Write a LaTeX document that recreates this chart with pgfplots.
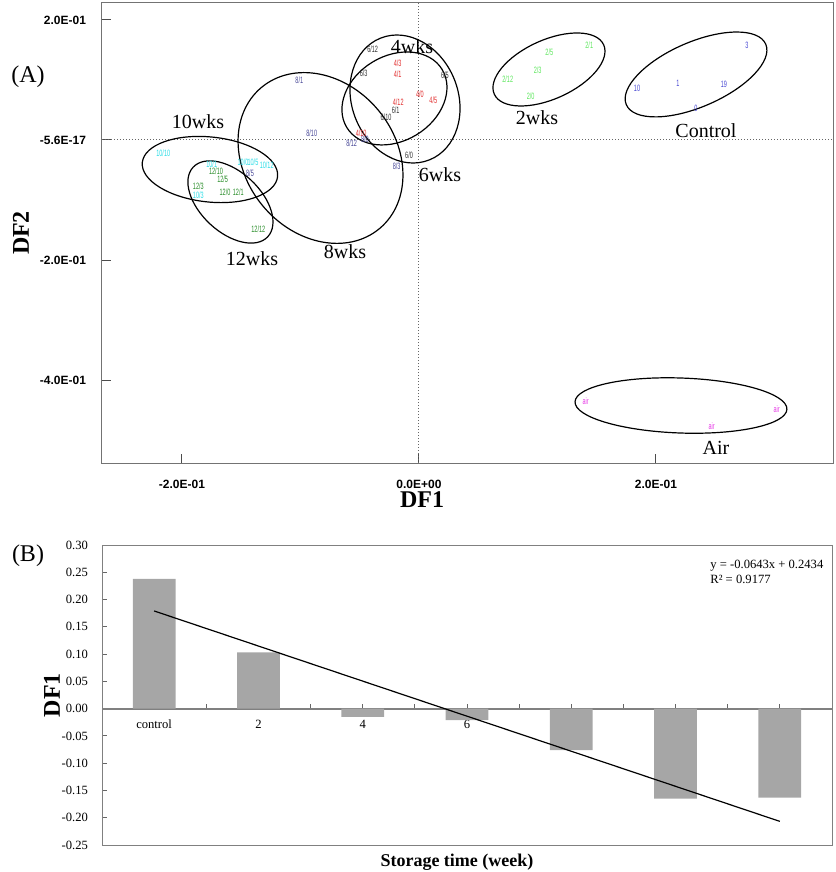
\documentclass[border=0pt]{standalone}
\usepackage{fontspec}
\setmainfont{Liberation Serif}
\newfontfamily\tickfont{Liberation Sans}
\newfontfamily\ptfont[FakeStretch=0.6]{Liberation Sans}
\usepackage{pgfplots}
\pgfplotsset{compat=1.18}
\usetikzlibrary{shapes.geometric}
\definecolor{cctrl}{RGB}{70,70,210}
\definecolor{cwk2}{RGB}{90,230,90}
\definecolor{cwk4}{RGB}{225,45,45}
\definecolor{cwk6}{RGB}{50,50,50}
\definecolor{cwk8}{RGB}{70,70,150}
\definecolor{cwk10}{RGB}{40,220,230}
\definecolor{cwk12}{RGB}{40,140,40}
\definecolor{cair}{RGB}{230,60,230}
\definecolor{barfill}{RGB}{166,166,166}
\begin{document}
\begin{tikzpicture}
\useasboundingbox (0,0) rectangle (417.5pt,-436pt);
\node[font=\fontsize{12}{14}\selectfont] at (14pt,-38.5pt) {(A)};
\node[font=\fontsize{12}{14}\selectfont] at (14pt,-278pt) {(B)};

% ---------------- (A) ----------------
\begin{axis}[
  at={(51pt,-231.5pt)}, anchor=south west, scale only axis,
  width=365.5pt, height=230pt,
  xmin=-0.2675, xmax=0.3494, ymin=-0.5383, ymax=0.2283,
  axis line style={draw=black!55, line width=0.5pt},
  xtick={-0.2,0,0.2}, xticklabels={-2.0E-01,0.0E+00,2.0E-01},
  ytick={-0.4,-0.2,0,0.2}, yticklabels={-4.0E-01,-2.0E-01,-5.6E-17,2.0E-01},
  tick align=inside, xtick pos=left, ytick pos=left,
  major tick length=4.5pt,
  tick style={black!70, line width=0.5pt},
  ticklabel style={font=\tickfont\bfseries\fontsize{6}{7}\selectfont},
  xticklabel style={yshift=-5pt},
  yticklabel style={xshift=-4.5pt},
  xlabel={DF1}, ylabel={DF2},
  label style={font=\bfseries\fontsize{12}{14}\selectfont},
  xlabel style={at={(axis description cs:0.4378,-0.0800)}, anchor=center},
  ylabel style={at={(axis description cs:-0.1108,0.5)}, anchor=center},
  clip=false,
  every node near coord/.append style={anchor=center, inner sep=0pt, font=\ptfont\fontsize{4.6}{5}\selectfont},
]
\draw[densely dotted, black!60, line width=0.5pt] (axis cs:0,-0.5383) -- (axis cs:0,0.2283);
\draw[densely dotted, black!60, line width=0.5pt] (axis cs:-0.2675,0) -- (axis cs:0.3494,0);

% Control
\addplot[draw=none, mark=none, nodes near coords, point meta=explicit symbolic,
  every node near coord/.append style={text=cctrl}] coordinates {
  (0.2768,0.1583)[3] (0.1840,0.0867)[10] (0.2186,0.0950)[1] (0.2574,0.0933)[19] (0.2338,0.0533)[0]};
% 2 weeks
\addplot[draw=none, mark=none, nodes near coords, point meta=explicit symbolic,
  every node near coord/.append style={text=cwk2}] coordinates {
  (0.1437,0.1572)[2/1] (0.1100,0.1455)[2/5] (0.1002,0.1155)[2/3] (0.0749,0.1017)[2/12] (0.0943,0.0722)[2/0]};
% 4 weeks
\addplot[draw=none, mark=none, nodes near coords, point meta=explicit symbolic,
  every node near coord/.append style={text=cwk4}] coordinates {
  (-0.0180,0.1278)[4/3] (-0.0180,0.1095)[4/1] (0.0008,0.0767)[4/0] (0.0121,0.0667)[4/5] (-0.0175,0.0628)[4/12] (-0.0488,0.0107)[4/10]};
% 6 weeks
\addplot[draw=none, mark=none, nodes near coords, point meta=explicit symbolic,
  every node near coord/.append style={text=cwk6}] coordinates {
  (-0.0391,0.1512)[6/12] (-0.0467,0.1112)[6/3] (0.0219,0.1083)[6/5] (-0.0197,0.0500)[6/1] (-0.0278,0.0378)[6/10] (-0.0084,-0.0250)[6/0]};
% 8 weeks
\addplot[draw=none, mark=none, nodes near coords, point meta=explicit symbolic,
  every node near coord/.append style={text=cwk8}] coordinates {
  (-0.1010,0.1000)[8/1] (-0.0905,0.0112)[8/10] (-0.0568,-0.0055)[8/12] (-0.0456,0.0020)[8/0] (-0.0188,-0.0445)[8/3] (-0.1426,-0.0555)[8/5]};
% 10 weeks
\addplot[draw=none, mark=none, nodes near coords, point meta=explicit symbolic,
  every node near coord/.append style={text=cwk10}] coordinates {
  (-0.2158,-0.0222)[10/10] (-0.1749,-0.0405)[10/1] (-0.1485,-0.0367)[10/0] (-0.1401,-0.0367)[10/5] (-0.1285,-0.0425)[10/12] (-0.1862,-0.0928)[10/3]};
% 12 weeks
\addplot[draw=none, mark=none, nodes near coords, point meta=explicit symbolic,
  every node near coord/.append style={text=cwk12}] coordinates {
  (-0.1713,-0.0528)[12/10] (-0.1657,-0.0655)[12/5] (-0.1862,-0.0778)[12/3] (-0.1637,-0.0862)[12/0] (-0.1525,-0.0862)[12/1] (-0.1356,-0.1483)[12/12]};
% Air
\addplot[draw=none, mark=none, nodes near coords, point meta=explicit symbolic,
  every node near coord/.append style={text=cair}] coordinates {
  (0.1407,-0.4345)[air] (0.2470,-0.4778)[air] (0.3019,-0.4483)[air]};

% ellipses
\tikzset{grp/.style={draw=black, ellipse, inner sep=0pt, line width=0.6pt}}
\node[grp, minimum width=76pt, minimum height=32.4pt, rotate=23.5] at (axis cs:0.2338,0.1092) {};
\node[grp, minimum width=60pt, minimum height=29.5pt, rotate=24.3] at (axis cs:0.1097,0.1175) {};
\node[grp, minimum width=55.8pt, minimum height=42.5pt, rotate=31.4] at (axis cs:-0.0207,0.0692) {};
\node[grp, minimum width=65.6pt, minimum height=53.1pt, rotate=112] at (axis cs:-0.0118,0.0683) {};
\node[grp, minimum width=92pt, minimum height=75pt, rotate=130] at (axis cs:-0.0831,-0.0300) {};
\node[grp, minimum width=68pt, minimum height=32.5pt, rotate=-6] at (axis cs:-0.1764,-0.0492) {};
\node[grp, minimum width=51pt, minimum height=30pt, rotate=-43] at (axis cs:-0.1591,-0.1033) {};
\node[grp, minimum width=106pt, minimum height=27.5pt, rotate=-2] at (axis cs:0.2211,-0.4425) {};

% group labels
\tikzset{glab/.style={font=\fontsize{10}{12}\selectfont, inner sep=0pt}}
\node[glab] at (axis cs:-0.0059,0.155) {4wks};
\node[glab] at (axis cs:0.0996,0.0367) {2wks};
\node[glab] at (axis cs:0.2422,0.015) {Control};
\node[glab] at (axis cs:-0.1865,0.03) {10wks};
\node[glab] at (axis cs:-0.1409,-0.1983) {12wks};
\node[glab] at (axis cs:-0.0624,-0.1867) {8wks};
\node[glab] at (axis cs:0.0177,-0.0583) {6wks};
\node[glab] at (axis cs:0.2506,-0.5133) {Air};
\end{axis}

% ---------------- (B) ----------------
\begin{axis}[
  at={(51pt,-422.5pt)}, anchor=south west, scale only axis,
  width=365pt, height=150pt,
  xmin=-0.5, xmax=6.5, ymin=-0.25, ymax=0.30,
  axis x line*=middle, axis y line*=left,
  hide obscured x ticks=false, hide obscured y ticks=false,
  x axis line style={draw=black!50, line width=0.9pt},
  y axis line style={draw=black!50, line width=0.5pt},
  xtick={0,1,2,3,4,5,6}, xticklabels={control,2,4,6,8,10,12},
  minor xtick={0.5,1.5,2.5,3.5,4.5,5.5},
  ytick={-0.25,-0.20,-0.15,-0.10,-0.05,0,0.05,0.10,0.15,0.20,0.25,0.30},
  yticklabels={-0.25,-0.20,-0.15,-0.10,-0.05,0.00,0.05,0.10,0.15,0.20,0.25,0.30},
  tick align=inside,
  major tick length=2.5pt, minor tick length=2.5pt,
  tick style={black!60, line width=0.5pt},
  ticklabel style={font=\fontsize{6.3}{7}\selectfont},
  xticklabel style={yshift=-2pt},
  yticklabel style={xshift=-3.5pt},
  xlabel={Storage time (week)}, ylabel={DF1},
  xlabel style={font=\bfseries\fontsize{9}{11}\selectfont, at={(axis description cs:0.4863,-0.0567)}, anchor=center},
  ylabel style={font=\bfseries\fontsize{12}{14}\selectfont, at={(axis description cs:-0.0685,0.5)}, anchor=center},
  clip=false,
]
\addplot[ybar, bar width=0.41, bar shift=0pt, fill=barfill, draw=none] coordinates {
  (0,0.238) (1,0.103) (2,-0.015) (3,-0.021) (4,-0.076) (5,-0.165) (6,-0.163)};
\addplot[sharp plot, mark=none, black, line width=0.6pt] coordinates {(0,0.1791) (6,-0.2067)};
\draw[black!50, line width=0.5pt] (rel axis cs:0,0) rectangle (rel axis cs:1,1);
\node[anchor=north west, align=left, font=\fontsize{6.3}{7.5}\selectfont, inner sep=0pt] at (axis description cs:0.8329,0.95) {y = -0.0643x + 0.2434\\R² = 0.9177};
\end{axis}
\end{tikzpicture}
\end{document}
